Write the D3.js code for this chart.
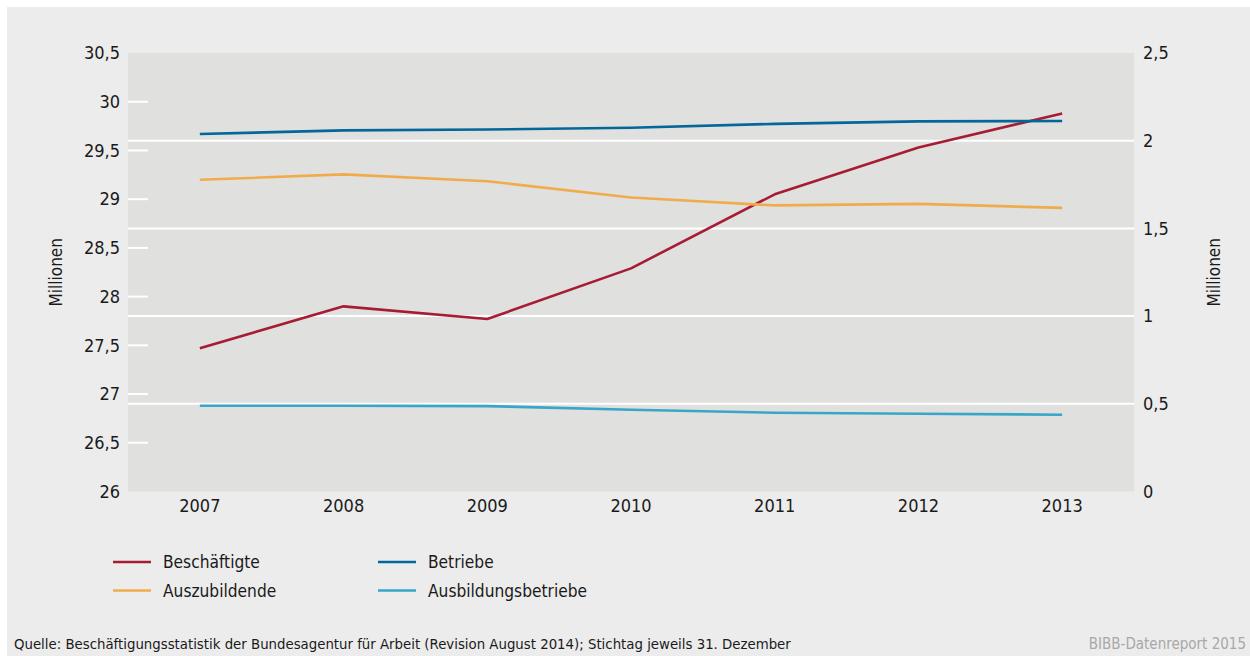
<!DOCTYPE html>
<html lang="de">
<head>
<meta charset="utf-8">
<script src="https://cdn.jsdelivr.net/npm/d3@7"></script>
<style>
    body { margin: 0; background: #fff; }
    svg text { font-family: "DejaVu Sans Condensed", "DejaVu Sans", sans-serif; font-stretch: condensed; }
</style>
</head>
<body>
<div id="chart"></div>
<script>
// Beschäftigte, Auszubildende, Betriebe, Ausbildungsbetriebe 2007-2013
const years = [2007, 2008, 2009, 2010, 2011, 2012, 2013];
const beschaeftigte = [27.47, 27.90, 27.77, 28.29, 29.05, 29.53, 29.88];       // linke Achse
const betriebe = [2.038, 2.059, 2.064, 2.074, 2.096, 2.110, 2.112];            // rechte Achse
const auszubildende = [1.777, 1.808, 1.769, 1.676, 1.631, 1.640, 1.617];       // rechte Achse
const ausbildungsbetriebe = [0.489, 0.489, 0.487, 0.466, 0.449, 0.443, 0.438]; // rechte Achse

const left_ticks = [26, 26.5, 27, 27.5, 28, 28.5, 29, 29.5, 30, 30.5];
const right_ticks = [0, 0.5, 1, 1.5, 2, 2.5];

const series = [
    { name: "Beschäftigte", values: beschaeftigte, axis: "left", color: "#a71c33" },
    { name: "Auszubildende", values: auszubildende, axis: "right", color: "#f0ac4c" },
    { name: "Betriebe", values: betriebe, axis: "right", color: "#03679a" },
    { name: "Ausbildungsbetriebe", values: ausbildungsbetriebe, axis: "right", color: "#37a6c9" }
];

const width = 1250;
const height = 656;
const margin = { top: 53, right: 116, bottom: 164.5, left: 128 };
const inner_width = width - margin.left - margin.right;
const inner_height = height - margin.top - margin.bottom;

const fmt = d => String(d).replace(".", ",");

const svg = d3.select("#chart").append("svg")
    .attr("width", width)
    .attr("height", height)
    .style("display", "block");

svg.append("rect")
    .attr("x", 7).attr("y", 7)
    .attr("width", width - 7).attr("height", height - 7)
    .attr("fill", "#ececec");

const g = svg.append("g")
    .attr("transform", `translate(${margin.left},${margin.top})`);

const x_scale = d3.scaleBand().domain(years).range([0, inner_width]);
const y_left = d3.scaleLinear().domain([26, 30.5]).range([inner_height, 0]);
const y_right = d3.scaleLinear().domain([0, 2.5]).range([inner_height, 0]);

g.append("rect")
    .attr("width", inner_width)
    .attr("height", inner_height)
    .attr("fill", "#e0e0df");

// white grid lines follow the right axis
g.append("g")
    .selectAll("line")
    .data(right_ticks.filter(d => d > 0 && d < 2.5))
    .join("line")
    .attr("x1", 0).attr("x2", inner_width)
    .attr("y1", d => y_right(d)).attr("y2", d => y_right(d))
    .attr("stroke", "#fff")
    .attr("stroke-width", 2);

// short white ticks for the left axis
g.append("g")
    .selectAll("line")
    .data(left_ticks.filter(d => d > 26 && d < 30.5))
    .join("line")
    .attr("x1", 0).attr("x2", 20)
    .attr("y1", d => y_left(d)).attr("y2", d => y_left(d))
    .attr("stroke", "#fff")
    .attr("stroke-width", 2);

const left_axis = g.append("g")
    .call(d3.axisLeft(y_left).tickValues(left_ticks).tickFormat(fmt).tickSize(0).tickPadding(8));
const right_axis = g.append("g")
    .attr("transform", `translate(${inner_width},0)`)
    .call(d3.axisRight(y_right).tickValues(right_ticks).tickFormat(fmt).tickSize(0).tickPadding(9));
const x_axis = g.append("g")
    .attr("transform", `translate(0,${inner_height})`)
    .call(d3.axisBottom(x_scale).tickSize(0).tickPadding(8));

[left_axis, right_axis, x_axis].forEach(ax => {
    ax.select(".domain").remove();
    ax.selectAll("text")
        .style("font-size", "18px")
        .attr("fill", "#1a1a1a");
});

g.append("text")
    .attr("transform", `translate(-66,${inner_height / 2}) rotate(-90)`)
    .attr("text-anchor", "middle")
    .style("font-size", "17px")
    .attr("fill", "#1a1a1a")
    .text("Millionen");

g.append("text")
    .attr("transform", `translate(${inner_width + 86},${inner_height / 2}) rotate(-90)`)
    .attr("text-anchor", "middle")
    .style("font-size", "17px")
    .attr("fill", "#1a1a1a")
    .text("Millionen");

const x_pos = d => x_scale(d) + x_scale.bandwidth() / 2;

series.forEach(s => {
    const y = s.axis === "left" ? y_left : y_right;
    const line = d3.line()
        .x((d, i) => x_pos(years[i]))
        .y(d => y(d));
    g.append("path")
        .datum(s.values)
        .attr("d", line)
        .attr("fill", "none")
        .attr("stroke", s.color)
        .attr("stroke-width", 2.6)
        .attr("stroke-linejoin", "round");
});

// legend, two columns
const legend_order = [series[0], series[2], series[1], series[3]];
const legend = svg.append("g");
legend_order.forEach((s, i) => {
    const col = i % 2;
    const row = Math.floor(i / 2);
    const lx = col === 0 ? 113 : 378;
    const ly = 562 + row * 28.5;
    legend.append("line")
        .attr("x1", lx).attr("x2", lx + 38)
        .attr("y1", ly).attr("y2", ly)
        .attr("stroke", s.color)
        .attr("stroke-width", 2.6);
    legend.append("text")
        .attr("x", lx + 50).attr("y", ly)
        .attr("dy", "0.35em")
        .style("font-size", "17.2px")
        .attr("fill", "#1a1a1a")
        .text(s.name);
});

svg.append("text")
    .attr("x", 14).attr("y", 649)
    .style("font-size", "14.8px")
    .attr("fill", "#1a1a1a")
    .text("Quelle: Beschäftigungsstatistik der Bundesagentur für Arbeit (Revision August 2014); Stichtag jeweils 31. Dezember");

svg.append("text")
    .attr("x", 1246).attr("y", 649)
    .attr("text-anchor", "end")
    .style("font-size", "15px")
    .attr("fill", "#a8a8a8")
    .text("BIBB-Datenreport 2015");
</script>
</body>
</html>
